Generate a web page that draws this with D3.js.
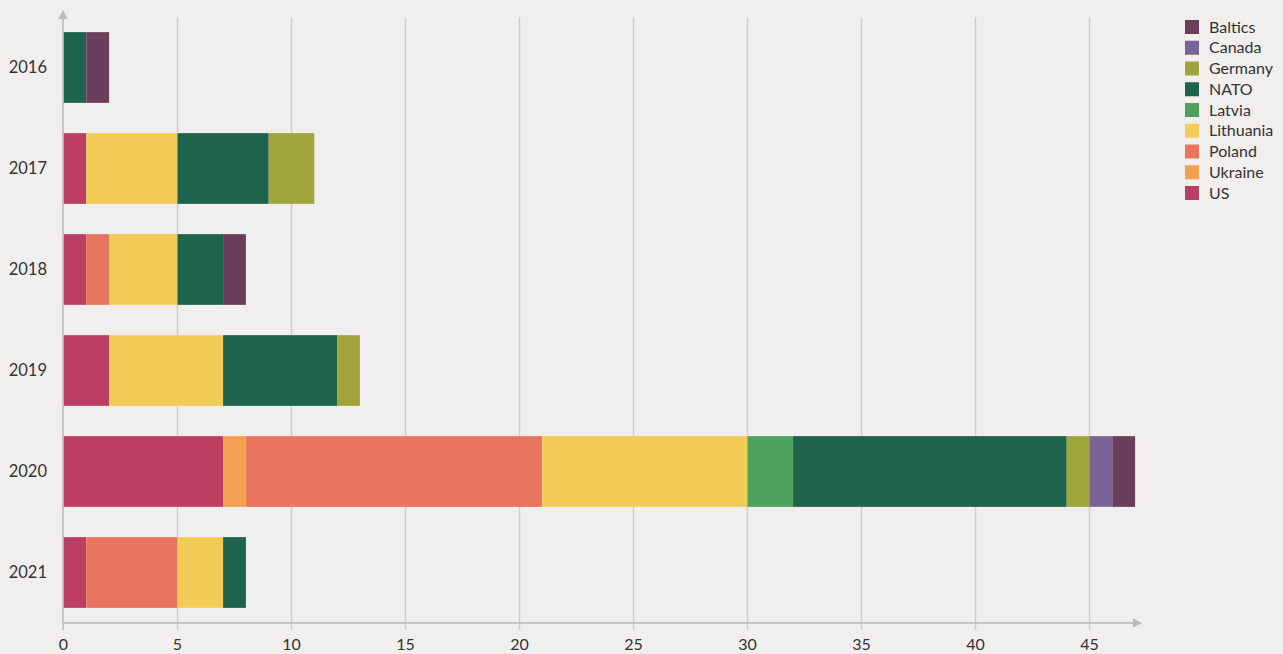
<!DOCTYPE html>
<html>
<head>
<meta charset="utf-8">
<script src="https://cdn.jsdelivr.net/npm/d3@7"></script>
<style>
  body { margin: 0; background: #f0efed; }
  svg { display: block; font-family: Lato, "Noto Sans", sans-serif; }
</style>
</head>
<body>
<svg width="1283" height="654"></svg>
<script>
const years = ["2016", "2017", "2018", "2019", "2020", "2021"];
// stacking order left to right
const stackKeys = ["US", "Ukraine", "Poland", "Lithuania", "Latvia", "NATO", "Germany", "Canada", "Baltics"];
const legendKeys = ["Baltics", "Canada", "Germany", "NATO", "Latvia", "Lithuania", "Poland", "Ukraine", "US"];
const colors = {
  Baltics: "#6b3f5c", Canada: "#7a6396", Germany: "#9fa53a", NATO: "#1d634d",
  Latvia: "#4ea25e", Lithuania: "#f3cc58", Poland: "#ea755e", Ukraine: "#f4a051", US: "#bd3e63"
};
const US        = [0, 1, 1, 2, 7, 1];
const Ukraine   = [0, 0, 0, 0, 1, 0];
const Poland    = [0, 0, 1, 0, 13, 4];
const Lithuania = [0, 4, 3, 5, 9, 2];
const Latvia    = [0, 0, 0, 0, 2, 0];
const NATO      = [1, 4, 2, 5, 12, 1];
const Germany   = [0, 2, 0, 1, 1, 0];
const Canada    = [0, 0, 0, 0, 1, 0];
const Baltics   = [1, 0, 1, 0, 1, 0];
const xTicks = [0, 5, 10, 15, 20, 25, 30, 35, 40, 45];

const series = { US, Ukraine, Poland, Lithuania, Latvia, NATO, Germany, Canada, Baltics };
const rows = years.map((y, i) => {
  const r = { year: y };
  stackKeys.forEach(k => r[k] = series[k][i]);
  return r;
});

const svg = d3.select("svg");
const x = d3.scaleLinear().domain([0, 45]).range([63.5, 1089.5]);
const y = d3.scaleBand().domain(years).range([17, 623]).paddingInner(0.3).paddingOuter(0.15);

const axisColor = "#b9b9bd";

// gridlines
svg.append("g").selectAll("line")
  .data(xTicks.filter(d => d > 0))
  .join("line")
  .attr("x1", d => x(d)).attr("x2", d => x(d))
  .attr("y1", 17).attr("y2", 630)
  .attr("stroke", "#cfcfd1").attr("stroke-width", 1.5);

// bars
const stacked = d3.stack().keys(stackKeys)(rows);
svg.append("g").selectAll("g")
  .data(stacked)
  .join("g")
  .attr("fill", d => colors[d.key])
  .selectAll("rect")
  .data(d => d.filter(s => s[1] > s[0]))
  .join("rect")
  .attr("x", d => x(d[0]))
  .attr("width", d => x(d[1]) - x(d[0]))
  .attr("y", d => y(d.data.year))
  .attr("height", y.bandwidth());

// axes
svg.append("line").attr("x1", 63).attr("x2", 1133).attr("y1", 623).attr("y2", 623)
  .attr("stroke", axisColor).attr("stroke-width", 1.5);
svg.append("path").attr("d", "M1142,623 L1133,618.5 L1133,627.5 Z").attr("fill", axisColor);
svg.append("line").attr("x1", 63).attr("x2", 63).attr("y1", 19).attr("y2", 630)
  .attr("stroke", axisColor).attr("stroke-width", 1.5);
svg.append("path").attr("d", "M63,10 L58.5,19 L67.5,19 Z").attr("fill", axisColor);

// x tick labels
svg.append("g").selectAll("text")
  .data(xTicks)
  .join("text")
  .attr("x", d => x(d))
  .attr("y", 650)
  .attr("text-anchor", "middle")
  .attr("font-size", 16)
  .attr("fill", "#333")
  .text(d => d);

// y labels
svg.append("g").selectAll("text")
  .data(years)
  .join("text")
  .attr("x", 47)
  .attr("y", d => y(d) + y.bandwidth() / 2)
  .attr("dy", "0.35em")
  .attr("text-anchor", "end")
  .attr("font-size", 16.5)
  .attr("fill", "#333")
  .text(d => d);

// legend
const legend = svg.append("g").attr("transform", "translate(1185,20)");
const item = legend.selectAll("g")
  .data(legendKeys)
  .join("g")
  .attr("transform", (d, i) => `translate(0,${i * 20.75})`);
item.append("rect").attr("width", 14).attr("height", 14).attr("fill", d => colors[d]);
item.append("text").attr("x", 24).attr("y", 7).attr("dy", "0.35em")
  .attr("font-size", 16).attr("fill", "#333").text(d => d);
</script>
</body>
</html>
